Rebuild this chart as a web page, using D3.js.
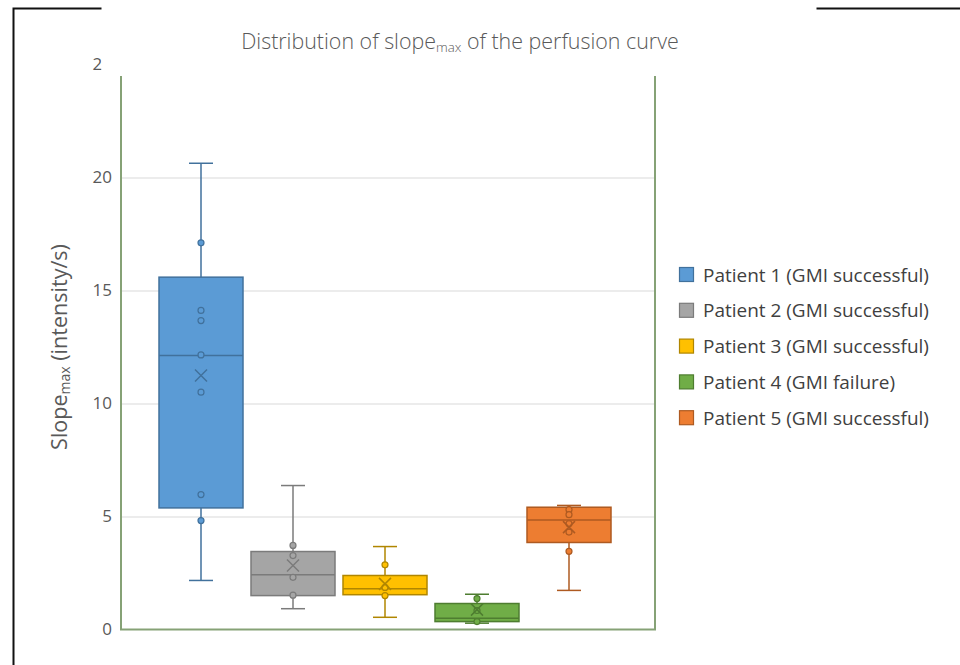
<!DOCTYPE html>
<html>
<head>
<meta charset="utf-8">
<script src="https://cdn.jsdelivr.net/npm/d3@7"></script>
<style>
  html, body { margin: 0; padding: 0; background: #fff; }
  svg { display: block; }
  text { font-family: "Open Sans", "Noto Sans", sans-serif; }
</style>
</head>
<body>
<svg id="chart" width="960" height="665"></svg>
<script>
// Slope_max distribution per patient (intensity/s)
const patients = [
  "Patient 1 (GMI successful)",
  "Patient 2 (GMI successful)",
  "Patient 3 (GMI successful)",
  "Patient 4 (GMI failure)",
  "Patient 5 (GMI successful)"
];
const whiskerLow  = [2.17, 0.92, 0.54, 0.28, 1.73];
const q1          = [5.38, 1.50, 1.54, 0.35, 3.85];
const median      = [12.12, 2.42, 1.80, 0.50, 4.85];
const q3          = [15.59, 3.45, 2.39, 1.15, 5.41];
const whiskerHigh = [20.63, 6.37, 3.67, 1.56, 5.49];
const means       = [11.24, 2.83, 2.02, 0.88, 4.53];
const innerPoints = [
  [17.11, 14.12, 13.67, 12.15, 10.50, 5.97, 4.82],
  [3.72, 3.27, 2.31, 1.52],
  [2.86, 1.86, 1.50],
  [1.37, 0.84, 0.35],
  [5.30, 5.08, 4.68, 4.31, 3.46]
];
const yTicks = [0, 5, 10, 15, 20, 25];

const fills   = ["#5b9bd5", "#a5a5a5", "#ffc000", "#70ad47", "#ed7d31"];
const strokes = ["#41719c", "#7b7b7b", "#b08600", "#4e7d30", "#ae5a21"];

const svg = d3.select("#chart");

const plot = { left: 121, right: 655, top: 64.5, bottom: 629.5 };

const y = d3.scaleLinear().domain([0, 25]).range([plot.bottom, plot.top]);
const x = d3.scaleBand()
  .domain(patients)
  .range([plot.left + 38, plot.right - 44])
  .paddingInner(8 / 92)
  .paddingOuter(0);

// outer frame
svg.append("rect")
  .attr("x", 13.5).attr("y", 8.5)
  .attr("width", 1200).attr("height", 1200)
  .attr("fill", "none").attr("stroke", "#111").attr("stroke-width", 2);

// horizontal gridlines
svg.append("g")
  .attr("transform", `translate(${plot.left},0)`)
  .call(d3.axisLeft(y).tickValues(yTicks.filter(t => t > 0)).tickSize(-(plot.right - plot.left)).tickFormat(""))
  .call(g => g.select(".domain").remove())
  .call(g => g.selectAll("line").attr("stroke", "#d9d9d9").attr("stroke-width", 1));

// y tick labels
svg.append("g")
  .attr("transform", `translate(${plot.left},0)`)
  .call(d3.axisLeft(y).tickValues(yTicks).tickSize(0).tickPadding(9))
  .call(g => g.select(".domain").remove())
  .call(g => g.selectAll("text")
    .attr("fill", "#595959")
    .style("font-size", "17px")
    .style("font-family", "'Open Sans', sans-serif"));

// plot border
svg.append("rect")
  .attr("x", plot.left).attr("y", plot.top)
  .attr("width", plot.right - plot.left).attr("height", plot.bottom - plot.top)
  .attr("fill", "none").attr("stroke", "#86a276").attr("stroke-width", 2);

// boxes
const capW = 24;
const groups = svg.append("g").selectAll("g.box")
  .data(patients)
  .join("g")
  .attr("class", "box");

groups.each(function(p, i) {
  const g = d3.select(this);
  const x0 = x(p), bw = x.bandwidth(), cx = x0 + bw / 2;
  const col = strokes[i];

  // whiskers
  g.append("line").attr("x1", cx).attr("x2", cx)
    .attr("y1", y(q3[i])).attr("y2", y(whiskerHigh[i]))
    .attr("stroke", col).attr("stroke-width", 1.5);
  g.append("line").attr("x1", cx).attr("x2", cx)
    .attr("y1", y(q1[i])).attr("y2", y(whiskerLow[i]))
    .attr("stroke", col).attr("stroke-width", 1.5);
  [whiskerHigh[i], whiskerLow[i]].forEach(v => {
    g.append("line").attr("x1", cx - capW / 2).attr("x2", cx + capW / 2)
      .attr("y1", y(v)).attr("y2", y(v))
      .attr("stroke", col).attr("stroke-width", 1.5);
  });

  // box
  g.append("rect")
    .attr("x", x0).attr("y", y(q3[i]))
    .attr("width", bw).attr("height", y(q1[i]) - y(q3[i]))
    .attr("fill", fills[i]).attr("stroke", col).attr("stroke-width", 1.5);

  // median
  g.append("line").attr("x1", x0).attr("x2", x0 + bw)
    .attr("y1", y(median[i])).attr("y2", y(median[i]))
    .attr("stroke", col).attr("stroke-width", 1.5);

  // inner points
  g.selectAll("circle").data(innerPoints[i]).join("circle")
    .attr("cx", cx).attr("cy", d => y(d)).attr("r", 3)
    .attr("fill", fills[i]).attr("stroke", col).attr("stroke-width", 1.2);

  // mean marker
  const my = y(means[i]), s = 6;
  g.append("path")
    .attr("d", `M${cx - s},${my - s}L${cx + s},${my + s}M${cx - s},${my + s}L${cx + s},${my - s}`)
    .attr("stroke", col).attr("stroke-width", 1.5).attr("fill", "none");
});

// the upper band of the page sits over the frame and top of the axis
svg.append("rect")
  .attr("x", 101.5).attr("y", 0)
  .attr("width", 816.5 - 101.5).attr("height", 76)
  .attr("fill", "#fff");

// fit a text node to a given width by scaling its font size
function fitWidth(sel, target) {
  const fs = parseFloat(sel.style("font-size"));
  const w = sel.node().getComputedTextLength();
  if (w > 0) sel.style("font-size", (fs * target / w) + "px");
}

// title
const title = svg.append("text")
  .attr("x", 460).attr("y", 49)
  .attr("text-anchor", "middle")
  .attr("fill", "#595959")
  .style("font-size", "17px")
  .style("font-weight", "300");
title.append("tspan").text("Distribution of slope");
title.append("tspan").attr("dy", 3).style("font-size", "0.62em").text("max");
title.append("tspan").attr("dy", -3).text(" of the perfusion curve");
fitWidth(title, 438);

// y axis title
const ylab = svg.append("text")
  .attr("transform", "translate(67,347) rotate(-90)")
  .attr("text-anchor", "middle")
  .attr("fill", "#595959")
  .style("font-size", "16px");
ylab.append("tspan").text("Slope");
ylab.append("tspan").attr("dy", 3).style("font-size", "0.65em").text("max");
ylab.append("tspan").attr("dy", -3).text(" (intensity/s)");
fitWidth(ylab, 206);

// legend
const legend = svg.append("g").selectAll("g")
  .data(patients)
  .join("g")
  .attr("transform", (d, i) => `translate(679.5,${275 + i * 35.8})`);
legend.append("rect")
  .attr("x", 0).attr("y", -7.5).attr("width", 14).attr("height", 14)
  .attr("fill", (d, i) => fills[i]).attr("stroke", (d, i) => strokes[i]).attr("stroke-width", 1.2);
const legendText = legend.append("text")
  .attr("x", 23.5).attr("y", 0)
  .attr("dy", "0.35em")
  .attr("fill", "#404040")
  .style("font-size", "16px")
  .text(d => d);
// scale legend font so the first entry spans its measured width
{
  const first = legendText.nodes()[0];
  const w = first.getComputedTextLength();
  const fs = 16 * 226 / w;
  legendText.style("font-size", fs + "px");
}
</script>
</body>
</html>
